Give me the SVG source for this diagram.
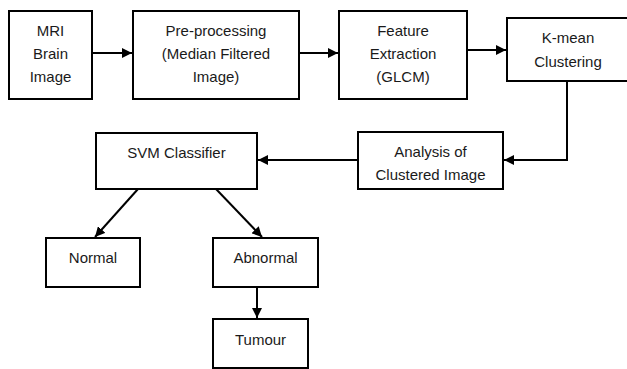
<svg xmlns="http://www.w3.org/2000/svg" width="627" height="369" viewBox="0 0 627 369">
  <style>
    .box { fill: #ffffff; stroke: #000000; stroke-width: 2; }
    .lbl { font-family: "Liberation Sans", Arial, sans-serif; font-size: 15px; fill: #1a1a1a; text-anchor: middle; }
    .wire { fill: none; stroke: #000000; stroke-width: 2; marker-end: url(#head); }
  </style>
  <defs>
    <marker id="head" viewBox="0 0 10 10" refX="10" refY="5" markerWidth="5" markerHeight="5" orient="auto" markerUnits="strokeWidth">
      <path d="M0,0 L10,5 L0,10 Z" fill="#000000"/>
    </marker>
  </defs>
  <rect width="627" height="369" fill="#ffffff"/>

  <g id="connectors">
    <line class="wire" x1="92" y1="53" x2="132" y2="53"/>
    <line class="wire" x1="299" y1="53" x2="338" y2="53"/>
    <line class="wire" x1="467" y1="50" x2="506" y2="50"/>
    <polyline class="wire" points="567,81 567,160 504,160"/>
    <line class="wire" x1="358" y1="160" x2="258" y2="160"/>
    <line class="wire" x1="138" y1="189" x2="95" y2="237"/>
    <line class="wire" x1="216" y1="189" x2="262" y2="237"/>
    <line class="wire" x1="257" y1="287" x2="257" y2="318"/>
  </g>

  <g id="mri">
    <rect class="box" x="9" y="11" width="83" height="88"/>
    <text class="lbl" x="50.5" y="36">MRI</text>
    <text class="lbl" x="50.5" y="59">Brain</text>
    <text class="lbl" x="50.5" y="82">Image</text>
  </g>
  <g id="preprocessing">
    <rect class="box" x="133" y="11" width="166" height="88"/>
    <text class="lbl" x="216" y="36">Pre-processing</text>
    <text class="lbl" x="216" y="59">(Median Filtered</text>
    <text class="lbl" x="216" y="82">Image)</text>
  </g>
  <g id="feature">
    <rect class="box" x="339" y="11" width="128" height="88"/>
    <text class="lbl" x="403" y="36">Feature</text>
    <text class="lbl" x="403" y="59">Extraction</text>
    <text class="lbl" x="403" y="82">(GLCM)</text>
  </g>
  <g id="kmean">
    <rect class="box" x="507" y="18" width="124" height="63"/>
    <text class="lbl" x="568" y="43">K-mean</text>
    <text class="lbl" x="568" y="67">Clustering</text>
  </g>
  <g id="analysis">
    <rect class="box" x="358" y="132" width="145" height="57"/>
    <text class="lbl" x="430.5" y="157">Analysis of</text>
    <text class="lbl" x="430.5" y="180">Clustered Image</text>
  </g>
  <g id="svm">
    <rect class="box" x="96" y="133" width="161" height="56"/>
    <text class="lbl" x="176.5" y="158">SVM Classifier</text>
  </g>
  <g id="normal">
    <rect class="box" x="46" y="238" width="94" height="49"/>
    <text class="lbl" x="93" y="263">Normal</text>
  </g>
  <g id="abnormal">
    <rect class="box" x="213" y="238" width="105" height="49"/>
    <text class="lbl" x="265.5" y="263">Abnormal</text>
  </g>
  <g id="tumour">
    <rect class="box" x="213" y="319" width="95" height="49"/>
    <text class="lbl" x="260.5" y="345">Tumour</text>
  </g>
</svg>
